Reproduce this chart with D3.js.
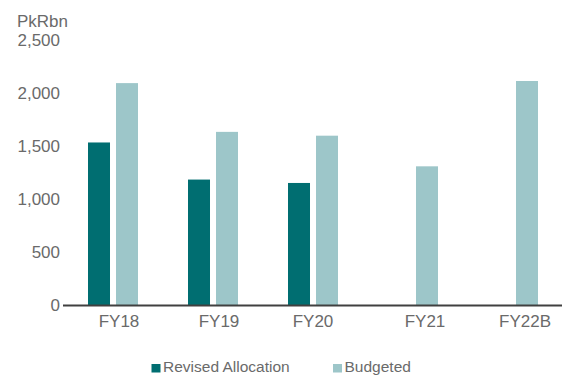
<!DOCTYPE html>
<html>
<head>
<meta charset="utf-8">
<script src="https://cdn.jsdelivr.net/npm/d3@7"></script>
<style>
  html, body { margin: 0; padding: 0; background: #fff; }
  svg { display: block; font-family: "Liberation Sans", Arial, sans-serif; }
</style>
</head>
<body>
<svg id="chart" width="571" height="376"></svg>
<script>
// Fiscal years and allocations (PkRbn)
const years = ["FY18", "FY19", "FY20", "FY21", "FY22B"];
const seriesNames = ["Revised Allocation", "Budgeted"];
const revised = [1538, 1188, 1156, null, null];
const budgeted = [2098, 1638, 1602, 1313, 2118];
const yTicks = [0, 500, 1000, 1500, 2000, 2500];
const unitLabel = "PkRbn";

const colors = { "Revised Allocation": "#006e71", "Budgeted": "#9dc6c9" };
const textColor = "#6a6a6a";

const svg = d3.select("#chart");

const x0 = d3.scaleBand().domain(years).range([63, 563]).padding(0);
const x1 = d3.scaleBand().domain(seriesNames)
  .range([0, x0.bandwidth()])
  .paddingInner(0.214).paddingOuter(0.893);
const y = d3.scaleLinear().domain([0, 2500]).range([305.5, 40.5]);

const rows = years.map((yr, i) => ({
  year: yr,
  values: [
    { key: "Revised Allocation", value: revised[i] },
    { key: "Budgeted", value: budgeted[i] }
  ]
}));

// Bars
const groups = svg.append("g").selectAll("g").data(rows).join("g")
  .attr("transform", d => `translate(${x0(d.year)},0)`);
groups.selectAll("rect")
  .data(d => d.values.filter(v => v.value != null))
  .join("rect")
  .attr("x", d => x1(d.key))
  .attr("width", x1.bandwidth())
  .attr("y", d => y(d.value))
  .attr("height", d => y(0) - y(d.value))
  .attr("fill", d => colors[d.key]);

// Y axis labels (no axis line)
const yAxis = svg.append("g")
  .attr("transform", "translate(60,0)")
  .call(d3.axisLeft(y).tickValues(yTicks).tickSize(0).tickPadding(0)
    .tickFormat(d3.format(",")));
yAxis.select(".domain").remove();
yAxis.selectAll("text")
  .attr("fill", textColor)
  .style("font-size", "17px");

// Unit label
svg.append("text")
  .attr("x", 17).attr("y", 27)
  .attr("fill", textColor)
  .style("font-size", "17px")
  .text(unitLabel);

// X axis
const labelNudge = { "FY18": 6, "FY19": 6, "FY20": 0, "FY21": 12, "FY22B": 12 };
const xAxis = svg.append("g")
  .attr("transform", `translate(0,${y(0)})`)
  .call(d3.axisBottom(x0).tickSize(0).tickPadding(9));
xAxis.select(".domain")
  .attr("stroke", "#404040")
  .attr("stroke-width", 2)
  .attr("d", "M63,0H562");
xAxis.selectAll("text")
  .attr("fill", textColor)
  .style("font-size", "17px")
  .attr("dx", d => labelNudge[d]);

// Legend
const legend = svg.append("g").attr("transform", "translate(0,372)");
const legendX = [151.5, 333];
seriesNames.forEach((name, i) => {
  const g = legend.append("g").attr("transform", `translate(${legendX[i]},0)`);
  g.append("rect")
    .attr("x", 0).attr("y", -8).attr("width", 9).attr("height", 8.5)
    .attr("fill", colors[name]);
  g.append("text")
    .attr("x", 11.5).attr("y", 0)
    .attr("fill", textColor)
    .style("font-size", "15.5px")
    .text(name);
});
</script>
</body>
</html>
